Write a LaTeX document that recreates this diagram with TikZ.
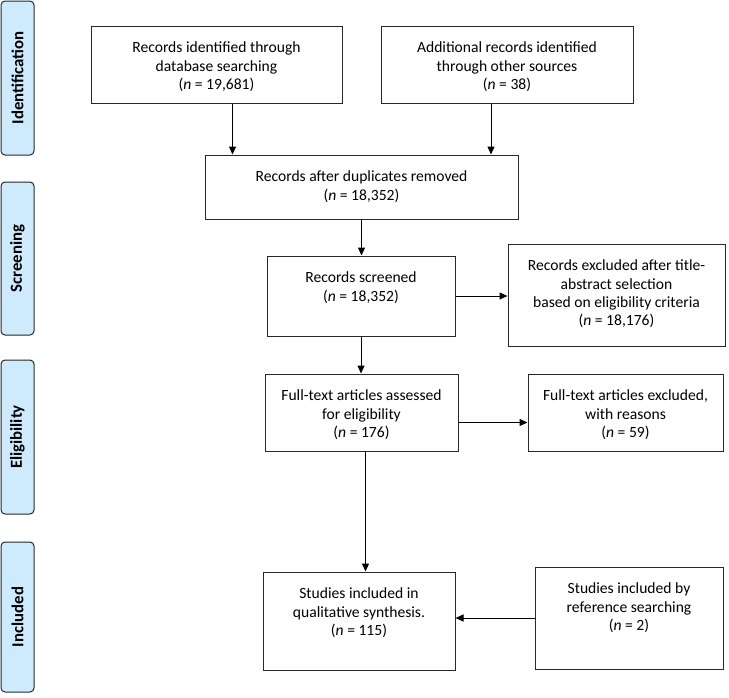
\documentclass[tikz,border=0pt]{standalone}
\usepackage{fontspec}
\setmainfont{Carlito}
\usetikzlibrary{arrows.meta,positioning}
\definecolor{clrPhase}{RGB}{206,234,253}
\definecolor{clrBorders}{RGB}{40,40,40}
\tikzstyle{phase}=[draw=clrBorders, fill=clrPhase, rounded corners=4pt, line width=1pt,
rotate=90, minimum height=33pt, inner sep=0pt, font=\fontsize{16.8}{20}\selectfont\bfseries]
\tikzstyle{box}=[draw=clrBorders, line width=1pt, inner sep=0pt, anchor=center,
font=\fontsize{15.6}{18.2}\selectfont]
\tikzstyle{myarrow}=[-{Triangle[length=8pt,width=7pt]}, line width=1pt]
\newcommand{\boxtext}[3]{\parbox[c][#2pt][t]{#1pt}{\centering\vspace*{16pt}#3}}

\begin{document}
\begin{tikzpicture}[x=1pt, y=-1pt]
		\useasboundingbox (0,0) rectangle (729,697);

		% phases on the left
		\node[phase, minimum width=154pt] (idf) at (17.5,78) {Identification};
		\node[phase, minimum width=153pt] (scr) at (17.5,258.5) {Screening};
		\node[phase, minimum width=154pt] (elg) at (17.5,437) {Eligibility};
		\node[phase, minimum width=150pt] (inc) at (17.5,617) {Included};

		\node[box] (A) at (216.5,64.5) {\boxtext{251}{77}{Records identified through\\database searching\\(\textit{n} = 19,681)}};
		\node[box] (B) at (507,64.5) {\boxtext{252}{77}{Additional records identified\\through other sources\\(\textit{n} = 38)}};

		\node[box] (C) at (361.5,187) {\boxtext{313}{64}{Records after duplicates removed\\(\textit{n} = 18,352)}};
		\draw[myarrow] ([xshift=16pt]A.south) -- ([xshift=16pt]A.south |- C.north) ;
		\draw[myarrow] ([xshift=-16pt]B.south) -- ([xshift=-16pt]B.south |- C.north) ;

		\node[box] (D) at (361,296) {\boxtext{188}{80}{Records screened\\(\textit{n} = 18,352)}};
		\draw[myarrow] (C.south) -- (C.south |- D.north) ;

		\node[box] (E) at (616.5,295) {\boxtext{217}{102}{Records excluded after title-\\abstract selection\\based on eligibility criteria\\(\textit{n} = 18,176)}};
		\draw[myarrow] (D.east) -- (D.east -| E.west) ;

		\node[box] (F) at (361.5,412.5) {\boxtext{193}{77}{Full-text articles assessed\\for eligibility\\(\textit{n} = 176)}};
		\draw[myarrow] (D.south) -- (D.south |- F.north) ;

		\node[box] (G) at (625.5,412.5) {\boxtext{195}{77}{Full-text articles excluded,\\with reasons\\(\textit{n} = 59)}};
		\draw[myarrow] ([yshift=-10pt]F.east) -- ([yshift=-10pt]F.east -| G.west) ;

		\node[box] (H) at (359,621) {\boxtext{192}{98}{Studies included in\\qualitative synthesis.\\(\textit{n} = 115)}};
		\draw[myarrow] ([xshift=4pt]F.south) -- ([xshift=4pt]F.south |- H.north) ;

		\node[box] (I) at (629,618) {\boxtext{188}{102}{Studies included by\\reference searching\\(\textit{n} = 2)}};
		\draw[myarrow] (I.west) -- (I.west -| H.east) ;

	\end{tikzpicture}
\end{document}
